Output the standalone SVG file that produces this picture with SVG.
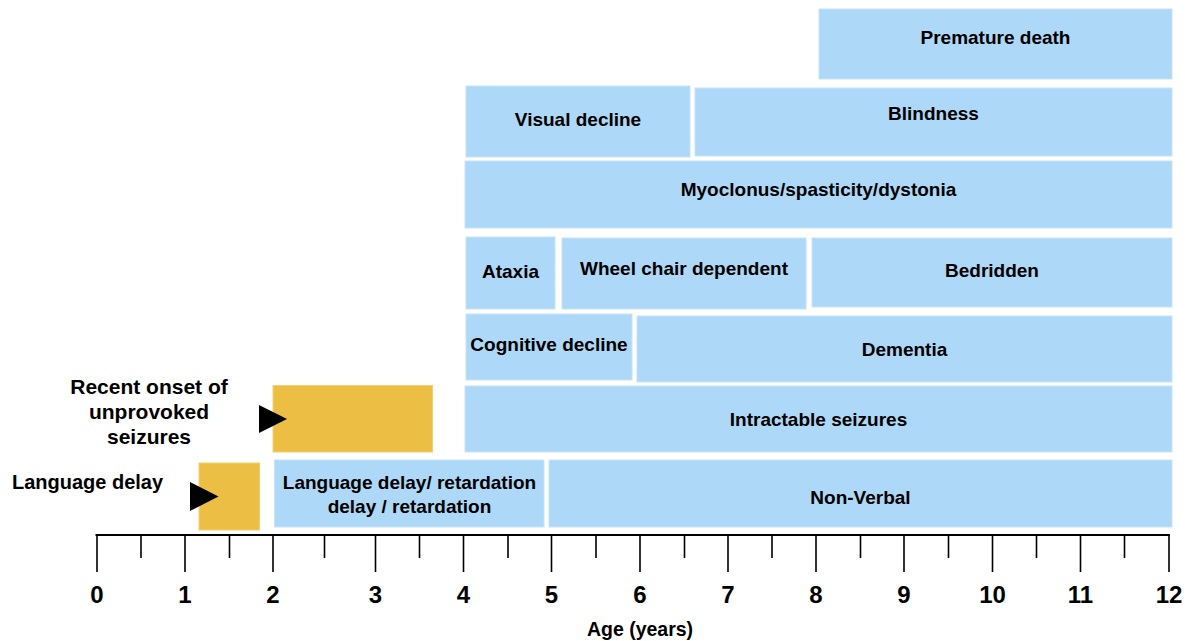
<svg xmlns="http://www.w3.org/2000/svg" width="1189" height="641" viewBox="0 0 1189 641">
<style>
.b{fill:#ADD8F8;stroke:#C6E3F8;stroke-width:1}
.o{fill:#EDBE44;stroke:#F2CF72;stroke-width:1}
.t{font-family:"Liberation Sans",Arial,Helvetica,sans-serif;font-weight:bold;font-size:19px;fill:#000;text-anchor:middle}
.l{font-family:"Liberation Sans",Arial,Helvetica,sans-serif;font-weight:bold;font-size:20px;fill:#000;text-anchor:middle}
.n{font-family:"Liberation Sans",Arial,Helvetica,sans-serif;font-weight:bold;font-size:24px;fill:#000;text-anchor:middle}
.ax{stroke:#000;stroke-width:2;fill:none}
.tk{stroke:#000;stroke-width:1.6;fill:none}
</style>
<rect width="1189" height="641" fill="#fff"/>
<g id="premature-death"><rect class="b" x="819" y="9" width="353" height="70"/><text class="t" x="995.5" y="44">Premature death</text></g>
<g id="visual-decline"><rect class="b" x="466" y="86" width="224" height="71"/><text class="t" x="578" y="126">Visual decline</text></g>
<g id="blindness"><rect class="b" x="695" y="88" width="477" height="68"/><text class="t" x="933.5" y="120">Blindness</text></g>
<g id="myoclonus"><rect class="b" x="465" y="161" width="707" height="67"/><text class="t" x="818.5" y="196">Myoclonus/spasticity/dystonia</text></g>
<g id="ataxia"><rect class="b" x="466" y="237" width="89" height="72"/><text class="t" x="510.5" y="278">Ataxia</text></g>
<g id="wheel-chair"><rect class="b" x="562" y="238" width="244" height="71"/><text class="t" x="684" y="275">Wheel chair dependent</text></g>
<g id="bedridden"><rect class="b" x="812" y="238" width="360" height="69"/><text class="t" x="992" y="277">Bedridden</text></g>
<g id="cognitive-decline"><rect class="b" x="466" y="314" width="166" height="66"/><text class="t" x="549" y="351">Cognitive decline</text></g>
<g id="dementia"><rect class="b" x="637" y="316" width="535" height="66"/><text class="t" x="904.5" y="356">Dementia</text></g>
<g id="intractable-seizures"><rect class="b" x="465" y="386" width="707" height="66"/><text class="t" x="818.5" y="426">Intractable seizures</text></g>
<g id="language-retardation"><rect class="b" x="274.5" y="460" width="269.5" height="67"/><text class="t" x="409.5" y="489">Language delay/ retardation</text><text class="t" x="409.5" y="513">delay / retardation</text></g>
<g id="non-verbal"><rect class="b" x="549" y="460" width="623" height="67"/><text class="t" x="860.5" y="504">Non-Verbal</text></g>
<g id="recent-onset"><rect class="o" x="273" y="385.5" width="159.5" height="66.5"/><polygon points="259,405 287,419 259,433" fill="#000"/><text class="l" x="149" y="394" style="font-size:21px">Recent onset of</text><text class="l" x="149" y="419" style="font-size:21px">unprovoked</text><text class="l" x="149" y="444" style="font-size:21px">seizures</text></g>
<g id="language-delay"><rect class="o" x="199" y="463" width="60.5" height="67"/><polygon points="190,482 218.5,496.5 190,511" fill="#000"/><text class="l" x="87.5" y="489">Language delay</text></g>
<g id="axis">
<line class="ax" x1="95.5" y1="535" x2="1170" y2="535"/>
<path class="tk" d="M97 535V572M185 535V572M273 535V572M375.5 535V572M463.5 535V572M551.5 535V572M640 535V572M728 535V572M816 535V572M904 535V572M992.5 535V572M1080.5 535V572M1169 535V572"/>
<path class="tk" d="M141 535V558M229.5 535V558M324.5 535V558M419.5 535V558M508 535V558M596 535V558M684.5 535V558M772 535V558M860.5 535V558M948.5 535V558M1036.5 535V558M1124.5 535V558"/>
<text class="n" x="97" y="603">0</text><text class="n" x="185" y="603">1</text><text class="n" x="273" y="603">2</text><text class="n" x="375.5" y="603">3</text><text class="n" x="463.5" y="603">4</text><text class="n" x="551.5" y="603">5</text><text class="n" x="640" y="603">6</text><text class="n" x="728" y="603">7</text><text class="n" x="816" y="603">8</text><text class="n" x="904" y="603">9</text><text class="n" x="992.5" y="603">10</text><text class="n" x="1080.5" y="603">11</text><text class="n" x="1169" y="603">12</text>
<text class="t" x="640" y="635.5" style="font-size:19.5px">Age (years)</text>
</g>
</svg>
